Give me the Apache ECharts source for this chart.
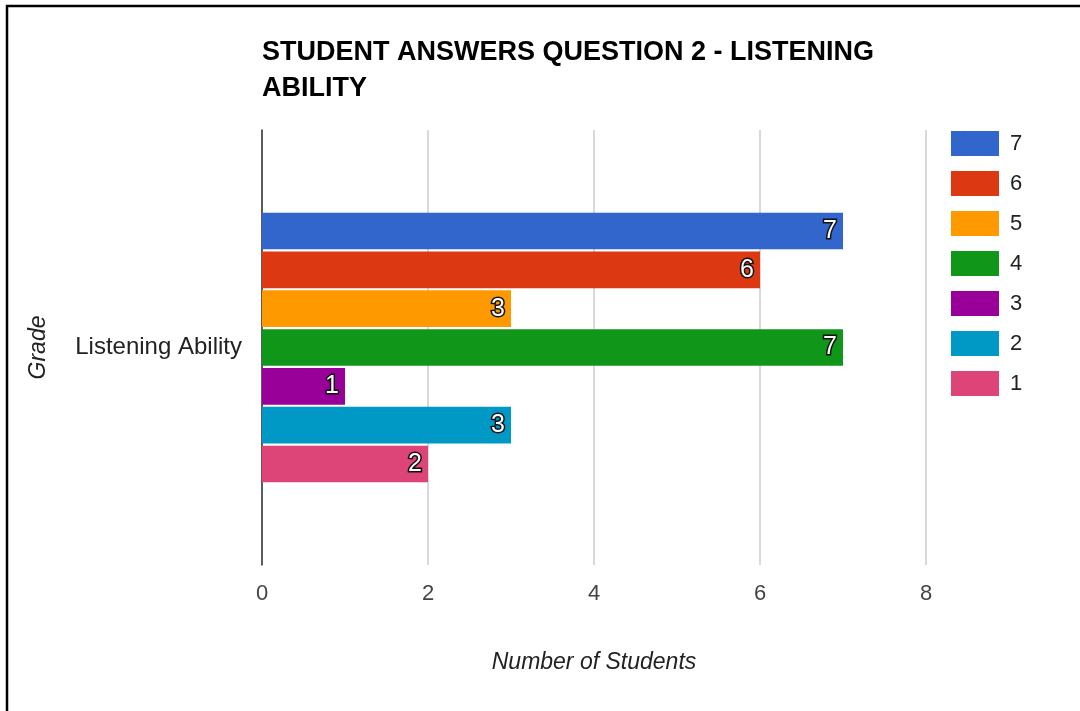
<!DOCTYPE html>
<html>
<head>
<meta charset="utf-8">
<script src="https://cdn.jsdelivr.net/npm/echarts@6/dist/echarts.min.js"></script>
<style>
  html, body { margin: 0; padding: 0; background: #fff; }
  #chart { width: 1080px; height: 711px; }
</style>
</head>
<body>
<div id="chart"></div>
<script>
// Question 2 answers, one bar per grade
const categories = ['Listening Ability'];
const grades = ['7', '6', '5', '4', '3', '2', '1'];
const counts = [7, 6, 3, 7, 1, 3, 2];
const colors = ['#3366cc', '#dc3912', '#ff9900', '#109618', '#990099', '#0099c6', '#dd4477'];
const xTicks = [0, 2, 4, 6, 8];

const FONT = '"Liberation Sans", Arial, sans-serif';

const series = grades.map((g, i) => ({
  name: g,
  type: 'bar',
  data: [counts[i]],
  itemStyle: { color: colors[i] },
  barCategoryGap: '38%',
  barGap: '6%',
  label: {
    show: true,
    position: 'insideRight',
    distance: 6,
    color: '#fff',
    fontFamily: FONT,
    fontSize: 25,
    textBorderColor: '#111',
    textBorderWidth: 3
  }
}));

const chart = echarts.init(document.getElementById('chart'));
chart.setOption({
  animation: false,
  color: colors,
  title: {
    text: 'STUDENT ANSWERS QUESTION 2 - LISTENING\nABILITY',
    left: 257,
    top: 30,
    textStyle: {
      fontFamily: FONT,
      fontWeight: 'bold',
      fontSize: 27,
      lineHeight: 36,
      color: '#000'
    }
  },
  legend: {
    orient: 'vertical',
    left: 946,
    top: 126,
    itemWidth: 48,
    itemHeight: 25,
    itemGap: 15,
    data: grades,
    icon: 'rect',
    textStyle: { fontFamily: FONT, fontSize: 22, color: '#222', padding: [0, 0, 0, 6] }
  },
  grid: { left: 262, right: 154, top: 130, bottom: 146, containLabel: false },
  xAxis: {
    type: 'value',
    min: xTicks[0],
    max: xTicks[xTicks.length - 1],
    interval: 2,
    name: 'Number of Students',
    nameLocation: 'middle',
    nameGap: 86,
    nameTextStyle: { fontFamily: FONT, fontSize: 23, fontStyle: 'italic', color: '#222' },
    axisLine: { show: false },
    axisTick: { show: false },
    axisLabel: { fontFamily: FONT, fontSize: 22, color: '#444', margin: 18 },
    splitLine: { lineStyle: { color: '#ccc', width: 1.5 } }
  },
  yAxis: {
    type: 'category',
    data: categories,
    inverse: true,
    name: 'Grade',
    nameLocation: 'middle',
    nameRotate: 90,
    nameGap: 212,
    nameTextStyle: { fontFamily: FONT, fontSize: 23, fontStyle: 'italic', color: '#222' },
    axisLine: { show: true, onZero: false, lineStyle: { color: '#333', width: 1.5 } },
    axisTick: { show: false },
    axisLabel: { fontFamily: FONT, fontSize: 24, color: '#222', margin: 20 }
  },
  graphic: [{
    type: 'rect',
    shape: { x: 7, y: 6, width: 1200, height: 900 },
    style: { fill: 'none', stroke: '#000', lineWidth: 2.5 },
    silent: true
  }],
  series: series
});
</script>
</body>
</html>
